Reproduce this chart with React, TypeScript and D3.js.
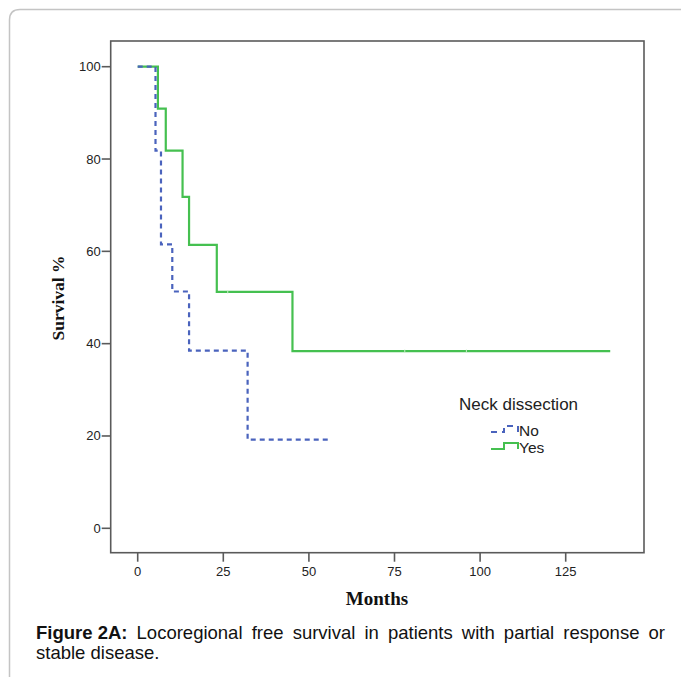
import * as d3 from "d3";
import { useEffect, useRef } from "react";

// Kaplan-Meier steps (months, survival %)
const yesTimes = [0, 5.9, 8.2, 13.1, 15.0, 23.1, 45.2, 138];
const yesSurv = [100, 90.9, 81.8, 71.8, 61.4, 51.2, 38.4, 38.4];
const noTimes = [0, 5.2, 6.8, 10.1, 15.0, 32.1, 55.6];
const noSurv = [100, 81.8, 61.5, 51.3, 38.5, 19.2, 19.2];

// censored observations
const yesCensorTimes = [26.3, 78, 96];
const yesCensorSurv = [51.2, 38.4, 38.4];

const xTicks = [0, 25, 50, 75, 100, 125];
const yTicks = [0, 20, 40, 60, 80, 100];

const groups = ["No", "Yes"];
const captionLine1 = ["Locoregional", "free", "survival", "in", "patients", "with", "partial", "response", "or"];
const captionLine2 = "stable disease.";

const GREEN = "#45c050";
const BLUE = "#4a63bd";
const FRAME = "#5a5a5a";

function App() {
    const ref = useRef<SVGSVGElement>(null);

    useEffect(() => {
        const svg = d3.select(ref.current);
        svg.selectAll("*").remove();

        const width = 681;
        const height = 677;
        svg.attr("width", width).attr("height", height);

        // card border with rounded top-left corner
        svg.append("path")
            .attr("d", `M9.5,${height + 5} V20 Q9.5,9.5 20,9.5 H${width + 5}`)
            .attr("fill", "none")
            .attr("stroke", "#c4c4c4")
            .attr("stroke-width", 1.5);

        // plot frame
        const frame = { left: 110.7, top: 41, right: 644, bottom: 552.7 };

        const x = d3.scaleLinear().domain([0, 125]).range([137.7, 565.7]);
        const y = d3.scaleLinear().domain([0, 100]).range([528.3, 66.7]);

        svg.append("rect")
            .attr("x", frame.left)
            .attr("y", frame.top)
            .attr("width", frame.right - frame.left)
            .attr("height", frame.bottom - frame.top)
            .attr("fill", "white")
            .attr("stroke", FRAME)
            .attr("stroke-width", 1.6);

        // y axis ticks
        const yAxis = svg.append("g").style("font-family", "'Liberation Sans', Arial, sans-serif").style("font-size", "13px");
        yTicks.forEach(t => {
            yAxis.append("line")
                .attr("x1", frame.left - 9).attr("x2", frame.left)
                .attr("y1", y(t)).attr("y2", y(t))
                .attr("stroke", FRAME).attr("stroke-width", 1.6);
            yAxis.append("text")
                .attr("x", frame.left - 10)
                .attr("y", y(t) + 4.5)
                .attr("text-anchor", "end")
                .attr("fill", "#222")
                .text(t);
        });

        // x axis ticks
        const xAxis = svg.append("g").style("font-family", "'Liberation Sans', Arial, sans-serif").style("font-size", "13px");
        xTicks.forEach(t => {
            xAxis.append("line")
                .attr("x1", x(t)).attr("x2", x(t))
                .attr("y1", frame.bottom).attr("y2", frame.bottom + 9)
                .attr("stroke", FRAME).attr("stroke-width", 1.6);
            xAxis.append("text")
                .attr("x", x(t))
                .attr("y", 576)
                .attr("text-anchor", "middle")
                .attr("fill", "#222")
                .text(t);
        });

        // axis titles
        svg.append("text")
            .attr("transform", "rotate(-90)")
            .attr("x", -298)
            .attr("y", 64)
            .attr("text-anchor", "middle")
            .style("font-family", "'Liberation Serif', 'Times New Roman', serif")
            .style("font-weight", "bold")
            .style("font-size", "17.5px")
            .attr("fill", "#111")
            .text("Survival %");

        svg.append("text")
            .attr("x", 377)
            .attr("y", 605)
            .attr("text-anchor", "middle")
            .style("font-family", "'Liberation Serif', 'Times New Roman', serif")
            .style("font-weight", "bold")
            .style("font-size", "19px")
            .attr("fill", "#111")
            .text("Months");

        // survival curves
        const step = d3.line<[number, number]>()
            .x(d => x(d[0]))
            .y(d => y(d[1]))
            .curve(d3.curveStepAfter);

        const yesPts = yesTimes.map((t, i) => [t, yesSurv[i]] as [number, number]);
        const noPts = noTimes.map((t, i) => [t, noSurv[i]] as [number, number]);

        svg.append("path")
            .attr("d", step(yesPts))
            .attr("fill", "none")
            .attr("stroke", GREEN)
            .attr("stroke-width", 2.2);

        svg.append("path")
            .attr("d", step(noPts))
            .attr("fill", "none")
            .attr("stroke", BLUE)
            .attr("stroke-width", 2.2)
            .attr("stroke-dasharray", "5,4");

        // faint censor ticks
        yesCensorTimes.forEach((t, i) => {
            svg.append("line")
                .attr("x1", x(t)).attr("x2", x(t))
                .attr("y1", y(yesCensorSurv[i]) - 1.5).attr("y2", y(yesCensorSurv[i]) + 1.5)
                .attr("stroke", "#c8ecca")
                .attr("stroke-width", 1);
        });

        // legend
        const legend = svg.append("g").style("font-family", "'Liberation Sans', Arial, sans-serif");
        legend.append("text")
            .attr("x", 459)
            .attr("y", 410)
            .style("font-size", "17px")
            .attr("fill", "#222")
            .text("Neck dissection");

        groups.forEach((g, i) => {
            const by = 432 + i * 17;
            legend.append("path")
                .attr("d", `M491,${by} H504 V${by - 6} H518 V${by}`)
                .attr("fill", "none")
                .attr("stroke", g === "No" ? BLUE : GREEN)
                .attr("stroke-width", 2)
                .attr("stroke-dasharray", g === "No" ? "6,5" : null);
            legend.append("text")
                .attr("x", 519)
                .attr("y", by + 4)
                .style("font-size", "15.5px")
                .attr("fill", "#222")
                .text(g);
        });

        // caption, first line justified
        const cap = svg.append("g")
            .style("font-family", "'Liberation Sans', Arial, sans-serif")
            .style("font-size", "18.5px")
            .attr("fill", "#111");

        const left = 36;
        const right = 665;
        const words = [{ t: "Figure 2A:", bold: true }, ...captionLine1.map(t => ({ t, bold: false }))];
        const nodes = words.map(w =>
            cap.append("text")
                .attr("y", 639)
                .style("font-weight", w.bold ? "bold" : "normal")
                .text(w.t)
        );
        const widths = nodes.map(n => (n.node() as SVGTextElement).getComputedTextLength());
        const gap = (right - left - d3.sum(widths)) / (nodes.length - 1);
        let cx = left;
        nodes.forEach((n, i) => {
            n.attr("x", cx);
            cx += widths[i] + gap;
        });

        cap.append("text")
            .attr("x", left)
            .attr("y", 659)
            .text(captionLine2);
    }, []);

    return <svg ref={ref} style={{ position: "absolute", left: 0, top: 0 }} />;
}

export default App;
